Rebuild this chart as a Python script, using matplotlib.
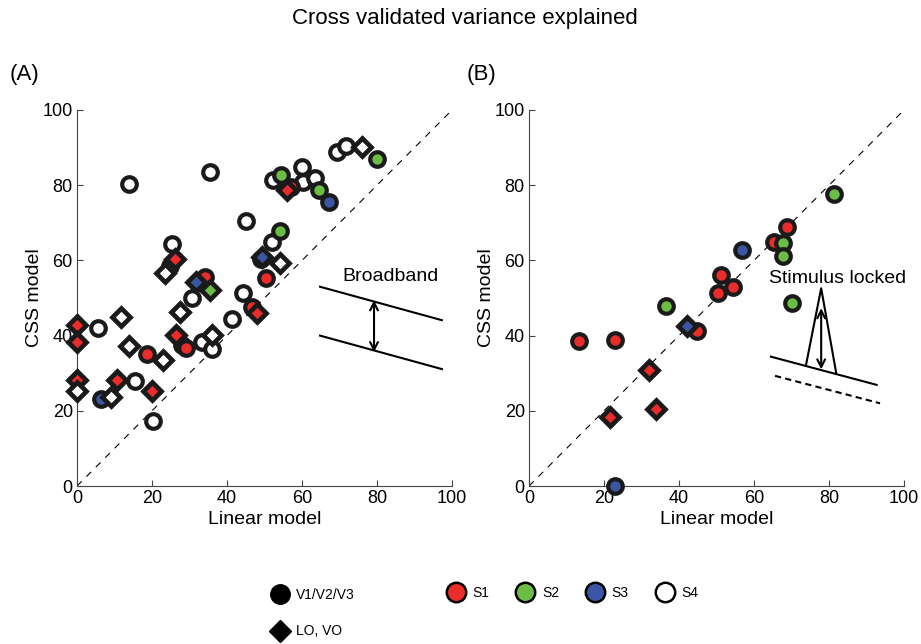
import matplotlib
matplotlib.use("Agg")
import matplotlib.pyplot as plt
from matplotlib.lines import Line2D

plt.rcParams['font.family'] = ['Liberation Sans', 'DejaVu Sans']

colors = {"S1": "#ea2c2a", "S2": "#6cbd45", "S3": "#3b56a5", "S4": "white"}

# panel A: broadband  (x linear, y css, shape, subject)
a_x = [13.9, 35.4, 45.0, 25.3, 24.8, 30.7, 44.3, 41.2, 15.5, 20.3, 5.7, 27.9, 33.2, 35.9,
       51.9, 52.3, 59.9, 60.3, 63.5, 69.2, 71.7,
       18.6, 29.1, 34.1, 46.7, 50.4, 57.0,
       54.1, 54.3, 64.4, 79.9, 49.0,
       6.3, 67.3,
       0, 0, 0, 10.8, 20.0, 26.4, 26.1, 48.1, 55.9,
       0, 9.2, 14.0, 11.7, 22.8, 27.5, 35.9, 23.5, 54.1, 75.9,
       35.5,
       31.7, 49.2]
a_y = [80.4, 83.5, 70.4, 64.4, 58.4, 50.0, 51.2, 44.3, 27.9, 17.4, 42.0, 37.4, 38.4, 36.4,
       65.0, 81.4, 84.9, 80.9, 81.8, 88.9, 90.4,
       35.1, 36.6, 55.7, 47.6, 55.4, 79.4,
       67.8, 82.7, 78.7, 87.1, 60.3,
       23.2, 75.6,
       42.8, 38.2, 28.2, 28.2, 25.3, 40.2, 60.3, 45.9, 78.7,
       25.3, 23.6, 37.3, 44.9, 33.5, 46.4, 40.2, 56.7, 59.2, 90.2,
       52.0,
       54.2, 61.0]
a_shape = ["o"] * 34 + ["D"] * 22
a_subj = (["S4"] * 21 + ["S1"] * 6 + ["S2"] * 5 + ["S3"] * 2
          + ["S1"] * 9 + ["S4"] * 10 + ["S2"] + ["S3"] * 2)

# panel B: stimulus locked
b_x = [13.4, 22.9, 44.9, 50.5, 51.2, 54.5, 65.2, 68.7,
       36.4, 67.7, 67.7, 70.0, 81.2,
       22.9, 56.9,
       32.1, 21.6, 33.8,
       42.0]
b_y = [38.7, 38.8, 41.3, 51.2, 56.1, 53.0, 65.0, 69.0,
       47.8, 64.7, 61.2, 48.6, 77.6,
       0.0, 62.8,
       30.9, 18.4, 20.4,
       42.6]
b_shape = ["o"] * 15 + ["D"] * 4
b_subj = ["S1"] * 8 + ["S2"] * 5 + ["S3"] * 2 + ["S1"] * 3 + ["S3"]

ticks = [0, 20, 40, 60, 80, 100]


def setup(ax):
    ax.set_xlim(0, 100)
    ax.set_ylim(0, 100)
    ax.set_xticks(ticks)
    ax.set_yticks(ticks)
    ax.spines['top'].set_visible(False)
    ax.spines['right'].set_visible(False)
    for s in ['left', 'bottom']:
        ax.spines[s].set_color('#444444')
    ax.tick_params(direction='in', length=4, labelsize=13, color='#444444', pad=3)
    ax.set_xlabel("Linear model", fontsize=14, labelpad=3)
    ax.set_ylabel("CSS model", fontsize=14, labelpad=0)
    ax.plot([0, 100], [0, 100], '--', color='black', lw=0.8, dashes=(6, 6))


def draw_points(ax, xs, ys, shapes, subjs):
    for x, y, m, s in zip(xs, ys, shapes, subjs):
        ms = 10.5 if m == "o" else 9
        ax.plot(x, y, marker=m, ms=ms, mfc=colors[s], mec='#1a1a1a',
                mew=3 if m == "o" else 3.4, ls='none', clip_on=False, zorder=3)


fig = plt.figure(figsize=(9.21, 6.44), dpi=100)
axA = fig.add_axes([0.0836, 0.2453, 0.4072, 0.5839])
axB = fig.add_axes([0.5744, 0.2453, 0.4072, 0.5839])

setup(axA)
setup(axB)
draw_points(axA, a_x, a_y, a_shape, a_subj)
draw_points(axB, b_x, b_y, b_shape, b_subj)

arrow = dict(arrowstyle='<->', color='black', lw=1.5, mutation_scale=14, shrinkA=0, shrinkB=0)

# broadband schematic
axA.plot([64.8, 97.3], [53.0, 44.1], color='black', lw=1.5)
axA.plot([64.8, 97.3], [40.0, 31.1], color='black', lw=1.5)
axA.annotate("", xy=(79.2, 35.6), xytext=(79.2, 49.4), arrowprops=arrow)
axA.text(83.5, 55.6, "Broadband", fontsize=14, ha='center', va='center')

# stimulus locked schematic
axB.plot([64.5, 92.7], [34.4, 26.9], color='black', lw=1.5)
axB.plot([65.6, 93.6], [29.3, 22.0], '--', color='black', lw=1.5, dashes=(3, 2))
axB.plot([73.9, 77.9, 81.9], [32.4, 52.6, 30.1], color='black', lw=1.5)
axB.annotate("", xy=(77.9, 31.0), xytext=(77.9, 47.3), arrowprops=arrow)
axB.text(82.4, 55.2, "Stimulus locked", fontsize=14, ha='center', va='center')

fig.text(0.505, 0.972, "Cross validated variance explained", fontsize=16, ha='center', va='center')
fig.text(0.027, 0.885, "(A)", fontsize=16, ha='center', va='center')
fig.text(0.523, 0.885, "(B)", fontsize=16, ha='center', va='center')

shape_handles = [
    Line2D([], [], marker='o', ms=14, color='black', ls='none', label='V1/V2/V3'),
    Line2D([], [], marker='D', ms=11, color='black', ls='none', label='LO, VO'),
]
fig.legend(handles=shape_handles, loc='upper left', bbox_to_anchor=(0.275, 0.106),
           frameon=False, fontsize=10, handletextpad=0.2, labelspacing=1.6)

subj_handles = [Line2D([], [], marker='o', ms=14, mfc=colors[s], mec='black', mew=1.8,
                       ls='none', label=s) for s in ["S1", "S2", "S3", "S4"]]
fig.legend(handles=subj_handles, loc='upper left', bbox_to_anchor=(0.466, 0.109),
           ncol=4, frameon=False, fontsize=10, handletextpad=0.2, columnspacing=1.6)

fig.savefig("out.png", dpi=100)
